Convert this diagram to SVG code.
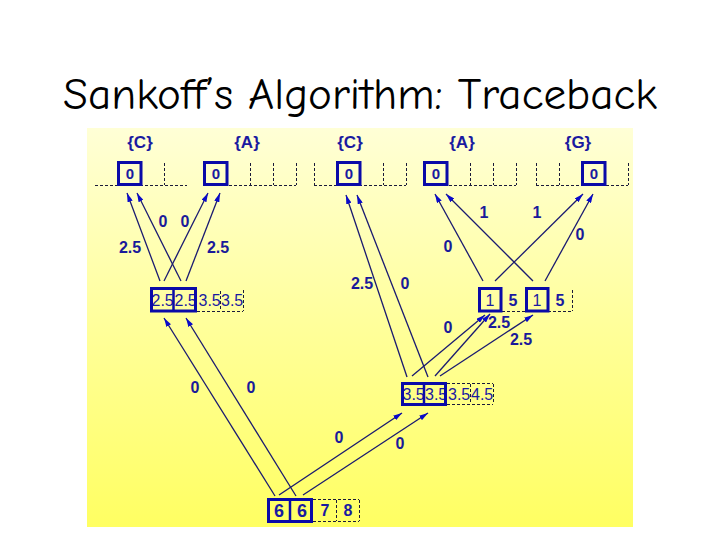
<svg xmlns="http://www.w3.org/2000/svg" width="720" height="540" viewBox="0 0 720 540">
<defs>
<linearGradient id="bg" x1="0" y1="0" x2="0" y2="1">
<stop offset="0" stop-color="#FFFFD6"/>
<stop offset="0.5" stop-color="#FFFF9A"/>
<stop offset="1" stop-color="#FFFF62"/>
</linearGradient>
<marker id="ah" viewBox="0 0 10 6" refX="10" refY="3" markerWidth="9" markerHeight="5.5" markerUnits="userSpaceOnUse" orient="auto">
<path d="M0,0 L10,3 L0,6 z" fill="#0a0ac8"/>
</marker>
<style>
.box{fill:none;stroke:#0a0aa8;stroke-width:3}
.dl{fill:none;stroke:#1a1a3a;stroke-width:1;stroke-dasharray:3,2}
.c{stroke:#1a1a70;stroke-width:1.3;fill:none;marker-end:url(#ah)}
.lab{font-family:"Liberation Sans",Arial,sans-serif;font-weight:bold;font-size:16px;fill:#1a1a9a;text-anchor:middle}
.set{font-family:"Liberation Sans",Arial,sans-serif;font-weight:bold;font-size:17px;fill:#1a1aa0;text-anchor:middle}
.z{font-family:"Liberation Sans",Arial,sans-serif;font-weight:bold;font-size:15px;fill:#1a1aa0;text-anchor:middle}
.v{font-family:"Liberation Sans",Arial,sans-serif;font-size:16px;fill:#1a1aa0}
.vb{font-family:"Liberation Sans",Arial,sans-serif;font-size:16px;font-weight:bold;fill:#1a1aa0;text-anchor:middle}
.rb{font-family:"Liberation Sans",Arial,sans-serif;font-size:18px;font-weight:bold;fill:#1a1aa0;text-anchor:middle}
</style>
</defs>
<rect x="0" y="0" width="720" height="540" fill="#ffffff"/>
<rect x="87" y="128" width="546" height="399" fill="url(#bg)"/>
<text x="360" y="109" font-family="'Comic Neue','DejaVu Sans',sans-serif" font-size="44" text-anchor="middle" textLength="594" lengthAdjust="spacingAndGlyphs" fill="#000">Sankoff’s Algorithm: Traceback</text>

<g id="connectors">
<line class="c" x1="160" y1="281" x2="127" y2="193"/>
<line class="c" x1="181" y1="281" x2="137" y2="193"/>
<line class="c" x1="164" y1="281" x2="208" y2="193"/>
<line class="c" x1="186" y1="281" x2="220" y2="193"/>
<line class="c" x1="483" y1="281" x2="435" y2="194"/>
<line class="c" x1="495" y1="281" x2="583" y2="194"/>
<line class="c" x1="533" y1="281" x2="446" y2="194"/>
<line class="c" x1="545" y1="281" x2="593" y2="194"/>
<line class="c" x1="407" y1="377" x2="346" y2="195"/>
<line class="c" x1="428" y1="377" x2="357" y2="195"/>
<line class="c" x1="412" y1="376" x2="485" y2="315"/>
<line class="c" x1="435" y1="376" x2="490" y2="314"/>
<line class="c" x1="440" y1="376" x2="533" y2="315"/>
<line class="c" x1="275" y1="496" x2="164" y2="318"/>
<line class="c" x1="296" y1="496" x2="186" y2="318"/>
<line class="c" x1="279" y1="495" x2="402" y2="413"/>
<line class="c" x1="303" y1="495" x2="428" y2="413"/>
</g>

<g id="edge-labels">
<text class="lab" x="130" y="253">2.5</text>
<text class="lab" x="163" y="227">0</text>
<text class="lab" x="185" y="227">0</text>
<text class="lab" x="218" y="253">2.5</text>
<text class="lab" x="484" y="218">1</text>
<text class="lab" x="537" y="218">1</text>
<text class="lab" x="448" y="252">0</text>
<text class="lab" x="580" y="240">0</text>
<text class="lab" x="362" y="289">2.5</text>
<text class="lab" x="405" y="289">0</text>
<text class="lab" x="448" y="333">0</text>
<text class="lab" x="499" y="328">2.5</text>
<text class="lab" x="521" y="345">2.5</text>
<text class="lab" x="195" y="393">0</text>
<text class="lab" x="251" y="393">0</text>
<text class="lab" x="339" y="443">0</text>
<text class="lab" x="400" y="449">0</text>
</g>

<g id="leaf1">
<text class="set" x="140" y="148">{C}</text>
<path class="dl" d="M95,185.5 H187 M164.5,163 V185"/>
<rect class="box" x="118.5" y="162.5" width="22.5" height="22"/>
<text class="z" x="130" y="179">0</text>
</g>
<g id="leaf2">
<text class="set" x="247" y="148">{A}</text>
<path class="dl" d="M204,185.5 H296 M250.5,163 V185 M273.5,163 V185 M296.5,163 V185"/>
<rect class="box" x="204.5" y="162.5" width="22.5" height="22"/>
<text class="z" x="216" y="179">0</text>
</g>
<g id="leaf3">
<text class="set" x="350" y="148">{C}</text>
<path class="dl" d="M314,185.5 H406 M314.5,163 V185 M383.5,163 V185 M406.5,163 V185"/>
<rect class="box" x="337.5" y="162.5" width="22.5" height="22"/>
<text class="z" x="349" y="179">0</text>
</g>
<g id="leaf4">
<text class="set" x="462" y="148">{A}</text>
<path class="dl" d="M424,185.5 H516 M470.5,163 V185 M493.5,163 V185 M516.5,163 V185"/>
<rect class="box" x="424.5" y="162.5" width="22.5" height="22"/>
<text class="z" x="436" y="179">0</text>
</g>
<g id="leaf5">
<text class="set" x="578" y="148">{G}</text>
<path class="dl" d="M536,185.5 H628 M536.5,163 V185 M559.5,163 V185 M628.5,163 V185"/>
<rect class="box" x="582.5" y="162.5" width="22.5" height="22"/>
<text class="z" x="594" y="179">0</text>
</g>

<g id="node1">
<path class="dl" d="M197,311.5 H243 M220.5,291 V311 M243.5,290 V311"/>
<text class="v" x="151.5" y="306">2.5</text>
<text class="v" x="174.5" y="306">2.5</text>
<text class="v" x="198.5" y="306">3.5</text>
<text class="v" x="221" y="306">3.5</text>
<rect class="box" x="151.5" y="288.5" width="44" height="22.5"/>
<line x1="173.5" y1="288" x2="173.5" y2="311" stroke="#0a0aa8" stroke-width="2.5"/>
</g>

<g id="node2">
<path class="dl" d="M502,311.5 H525 M548,311.5 H572 M572.5,290 V311"/>
<rect class="box" x="479.5" y="288.5" width="21.5" height="22.5"/>
<rect class="box" x="526.5" y="288.5" width="21.5" height="22.5"/>
<text class="v" x="490" y="306" text-anchor="middle">1</text>
<text class="vb" x="513" y="306">5</text>
<text class="v" x="537" y="306" text-anchor="middle">1</text>
<text class="vb" x="560" y="306">5</text>
</g>

<g id="node3">
<path class="dl" d="M447,383.5 H493 M447,404.5 H493 M470.5,384 V404 M493.5,384 V404"/>
<text class="v" x="402.5" y="400">3.5</text>
<text class="v" x="425" y="400">3.5</text>
<text class="v" x="448" y="400">3.5</text>
<text class="v" x="471" y="400">4.5</text>
<rect class="box" x="402.5" y="383.5" width="43" height="21"/>
<line x1="424" y1="383" x2="424" y2="404" stroke="#0a0aa8" stroke-width="2.5"/>
</g>

<g id="root">
<path class="dl" d="M313,499.5 H359 M313,521.5 H359 M336.5,500 V521 M359.5,500 V521"/>
<rect class="box" x="268.5" y="499.5" width="43" height="22"/>
<line x1="290" y1="499" x2="290" y2="521" stroke="#0a0aa8" stroke-width="2.5"/>
<text class="rb" x="279" y="517">6</text>
<text class="rb" x="302" y="517">6</text>
<text class="vb" x="325" y="516">7</text>
<text class="vb" x="348" y="516">8</text>
</g>
</svg>
